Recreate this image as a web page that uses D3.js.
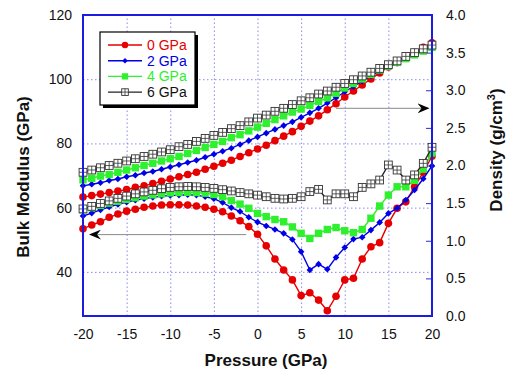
<!DOCTYPE html>
<html><head><meta charset="utf-8">
<script src="https://cdn.jsdelivr.net/npm/d3@7"></script>
<style>
html,body{margin:0;padding:0;background:#fff;}
svg text{font-family:"Liberation Sans",Arial,sans-serif;}
</style></head>
<body><svg id="c" width="512" height="372"></svg>
<script>
// ---- data ----
const pressure = d3.range(-20, 21, 1); // -20..20 GPa
const seriesNames = ["0 GPa", "2 GPa", "4 GPa", "6 GPa"];
const seriesColors = ["#e60000", "#0000e6", "#2ef02e", "#222222"];

// Density (right axis, g/cm^3)
const density0 = [1.58,1.60,1.62,1.64,1.66,1.68,1.71,1.73,1.76,1.79,1.82,1.85,1.88,1.91,1.95,1.99,2.03,2.07,2.12,2.17,2.22,2.27,2.33,2.39,2.45,2.52,2.59,2.66,2.74,2.82,2.91,2.99,3.07,3.15,3.23,3.31,3.37,3.44,3.50,3.57,3.63];
const density2 = [1.73,1.75,1.77,1.80,1.82,1.85,1.87,1.90,1.92,1.95,1.98,2.01,2.04,2.07,2.11,2.15,2.19,2.23,2.28,2.33,2.38,2.43,2.48,2.53,2.58,2.64,2.70,2.76,2.83,2.90,2.98,3.05,3.12,3.19,3.25,3.31,3.36,3.42,3.47,3.53,3.58];
const density4 = [1.81,1.83,1.86,1.88,1.91,1.94,1.97,2.00,2.03,2.06,2.09,2.12,2.16,2.20,2.24,2.28,2.32,2.37,2.41,2.46,2.51,2.56,2.61,2.66,2.71,2.75,2.80,2.85,2.90,2.96,3.03,3.09,3.15,3.21,3.27,3.32,3.37,3.42,3.47,3.52,3.57];
const density6 = [1.91,1.94,1.97,2.00,2.03,2.06,2.09,2.12,2.15,2.18,2.21,2.25,2.28,2.32,2.36,2.40,2.44,2.49,2.53,2.58,2.63,2.67,2.72,2.76,2.81,2.86,2.90,2.95,2.99,3.04,3.09,3.14,3.19,3.24,3.29,3.34,3.39,3.45,3.50,3.55,3.60];

// Bulk modulus (left axis, GPa)
const bulk0 = [53.4,54.6,55.6,57.0,58.0,58.9,59.5,60.1,60.5,60.8,60.9,60.9,60.8,60.5,60.1,59.5,58.7,57.4,55.9,54.1,51.7,48.1,44.0,40.6,37.5,32.6,33.5,31.2,27.9,32.4,37.5,38.0,44.0,47.8,49.1,55.1,59.8,61.8,66.5,71.0,76.0];
const bulk2 = [57.4,58.3,59.3,60.2,61.0,61.7,62.3,62.8,63.2,63.6,63.8,63.9,64.0,63.9,63.4,62.8,61.6,60.0,58.8,57.0,55.5,54.3,53.2,52.0,50.1,46.3,40.6,42.4,40.8,44.5,47.6,50.2,50.8,53.0,55.4,58.2,59.8,62.4,65.5,69.0,73.0];
const bulk4 = [59.3,60.0,60.7,61.4,62.0,62.6,63.1,63.6,64.0,64.3,64.6,64.7,64.8,64.7,64.5,64.1,63.4,62.2,61.1,59.8,58.2,57.2,56.3,55.6,54.0,52.0,50.4,52.0,53.2,53.8,52.8,52.2,53.2,56.7,60.5,63.9,66.5,66.5,68.5,72.0,77.0];
const bulk6 = [59.6,60.4,61.3,62.1,62.9,63.6,64.3,64.9,65.4,65.9,66.3,66.5,66.6,66.5,66.3,66.0,65.6,65.2,64.7,64.3,63.9,63.4,62.9,62.7,62.9,63.4,65.0,65.7,62.4,64.3,64.3,63.4,66.3,67.4,68.6,73.3,71.7,68.6,70.2,73.8,78.8];

const xTicks = [-20,-15,-10,-5,0,5,10,15,20];
const leftTicks = [40,60,80,100,120];
const rightTicks = [0,0.5,1,1.5,2,2.5,3,3.5,4];

// ---- chart ----
const svg = d3.select("#c");
const L = 83, R = 432, T = 15, B = 316;
const x = d3.scaleLinear().domain([-20,20]).range([L,R]);
const yL = d3.scaleLinear().domain([26.25,120]).range([B,T]);
const yR = d3.scaleLinear().domain([0,4]).range([B,T]);

const gridColor = "#8a8af0";
// vertical grid
svg.append("g").attr("transform",`translate(0,${B})`)
  .call(d3.axisBottom(x).tickValues(xTicks.slice(1,-1)).tickSize(-(B-T)).tickFormat(""))
  .call(g=>{g.select(".domain").remove();
    g.selectAll("line").attr("stroke",gridColor).attr("stroke-dasharray","1.5,2.5");});
// horizontal grid
svg.append("g").attr("transform",`translate(${L},0)`)
  .call(d3.axisLeft(yL).tickValues(leftTicks.slice(0,-1)).tickSize(-(R-L)).tickFormat(""))
  .call(g=>{g.select(".domain").remove();
    g.selectAll("line").attr("stroke",gridColor).attr("stroke-dasharray","1.5,2.5");});

// axis labels
svg.append("g").attr("transform",`translate(0,${B})`)
  .call(d3.axisBottom(x).tickValues(xTicks).tickSize(0).tickPadding(13).tickFormat(d=>String(d)))
  .call(g=>{g.select(".domain").remove();
    g.selectAll("text").attr("font-size",14).attr("fill","#111").attr("font-family","Liberation Sans, Arial, sans-serif");});
svg.append("g").attr("transform",`translate(${L},0)`)
  .call(d3.axisLeft(yL).tickValues(leftTicks).tickSize(0).tickPadding(11).tickFormat(d=>String(d)))
  .call(g=>{g.select(".domain").remove();
    g.selectAll("text").attr("font-size",14).attr("fill","#111").attr("font-family","Liberation Sans, Arial, sans-serif");});
svg.append("g").attr("transform",`translate(${R},0)`)
  .call(d3.axisRight(yR).tickValues(rightTicks).tickSizeInner(-6).tickSizeOuter(0).tickPadding(14).tickFormat(d=>d.toFixed(1)))
  .call(g=>{g.select(".domain").remove();
    g.selectAll("line").attr("stroke","#2a2ad8").attr("stroke-width",1);
    g.selectAll("text").attr("font-size",14).attr("fill","#111").attr("font-family","Liberation Sans, Arial, sans-serif");});

// arrows
const defs = svg.append("defs");
defs.append("marker").attr("id","ah").attr("viewBox","0 0 12 10").attr("refX",11).attr("refY",5)
  .attr("markerWidth",12).attr("markerHeight",10).attr("markerUnits","userSpaceOnUse").attr("orient","auto")
  .append("path").attr("d","M0,0 L12,5 L0,10 L4,5 Z").attr("fill","#000");
svg.append("line").attr("x1",x(9)).attr("x2",x(19.6)).attr("y1",yR(2.76)).attr("y2",yR(2.76))
  .attr("stroke","#888").attr("stroke-width",1).attr("marker-end","url(#ah)");
svg.append("line").attr("x1",x(-1.3)).attr("x2",x(-19.2)).attr("y1",yL(51.6)).attr("y2",yL(51.6))
  .attr("stroke","#888").attr("stroke-width",1).attr("marker-end","url(#ah)");

// markers
function drawMarker(g, i, cx, cy, s){
  const c = seriesColors[i];
  s = s || 1;
  if(i===0){ g.append("circle").attr("cx",cx).attr("cy",cy).attr("r",3.8*s).attr("fill",c); }
  else if(i===1){ const r=3.3*s; g.append("path").attr("d",`M${cx},${cy-r}L${cx+r},${cy}L${cx},${cy+r}L${cx-r},${cy}Z`).attr("fill",c); }
  else if(i===2){ const h=3.7*s; g.append("rect").attr("x",cx-h).attr("y",cy-h).attr("width",2*h).attr("height",2*h).attr("fill",c); }
  else { const h=3.9*s;
    g.append("rect").attr("x",cx-h).attr("y",cy-h).attr("width",2*h).attr("height",2*h).attr("fill","#fff").attr("stroke","#333").attr("stroke-width",0.9);
    g.append("path").attr("d",`M${cx},${cy-h}V${cy+h}M${cx-h},${cy}H${cx+h}`).attr("stroke","#333").attr("stroke-width",0.8);
  }
}

const densities = [density0,density2,density4,density6];
const bulks = [bulk0,bulk2,bulk4,bulk6];
const plot = svg.append("g");
for(let i=0;i<4;i++){
  const lineR = d3.line().x((d,j)=>x(pressure[j])).y(d=>yR(d));
  const lineL = d3.line().x((d,j)=>x(pressure[j])).y(d=>yL(d));
  const g = plot.append("g");
  g.append("path").attr("d",lineR(densities[i])).attr("fill","none").attr("stroke",seriesColors[i]).attr("stroke-width",1.4);
  g.append("path").attr("d",lineL(bulks[i])).attr("fill","none").attr("stroke",seriesColors[i]).attr("stroke-width",1.4);
  densities[i].forEach((d,j)=>drawMarker(g,i,x(pressure[j]),yR(d)));
  bulks[i].forEach((d,j)=>drawMarker(g,i,x(pressure[j]),yL(d)));
}

// frame
svg.append("rect").attr("x",L).attr("y",T).attr("width",R-L).attr("height",B-T)
  .attr("fill","none").attr("stroke","#1c1ce0").attr("stroke-width",2);

// legend
const lg = svg.append("g");
lg.append("rect").attr("x",103).attr("y",35).attr("width",95).attr("height",73).attr("fill","#000");
lg.append("rect").attr("x",100).attr("y",32).attr("width",95).attr("height",73).attr("fill","#fff").attr("stroke","#000").attr("stroke-width",1.2);
seriesNames.forEach((n,i)=>{
  const yy = 45 + i*15.7;
  lg.append("line").attr("x1",108).attr("x2",142).attr("y1",yy).attr("y2",yy).attr("stroke",seriesColors[i]).attr("stroke-width",1.4);
  drawMarker(lg,i,125,yy,0.85);
  lg.append("text").attr("x",147).attr("y",yy+5).attr("font-size",14).attr("fill",i===3?"#111":seriesColors[i]).text(n);
});

// titles
svg.append("text").attr("transform","translate(29,177) rotate(-90)").attr("text-anchor","middle")
  .attr("font-size",17).attr("font-weight","bold").attr("fill","#111").text("Bulk Modulus (GPa)");
const rt = svg.append("text").attr("transform","translate(502,150) rotate(-90)").attr("text-anchor","middle")
  .attr("font-size",17).attr("font-weight","bold").attr("fill","#111");
rt.append("tspan").text("Density (g/cm");
rt.append("tspan").attr("font-size",11).attr("dy",-7).text("3");
rt.append("tspan").attr("dy",7).text(")");
svg.append("text").attr("x",266).attr("y",366).attr("text-anchor","middle")
  .attr("font-size",17).attr("font-weight","bold").attr("fill","#111").text("Pressure (GPa)");
</script>
</body></html>
